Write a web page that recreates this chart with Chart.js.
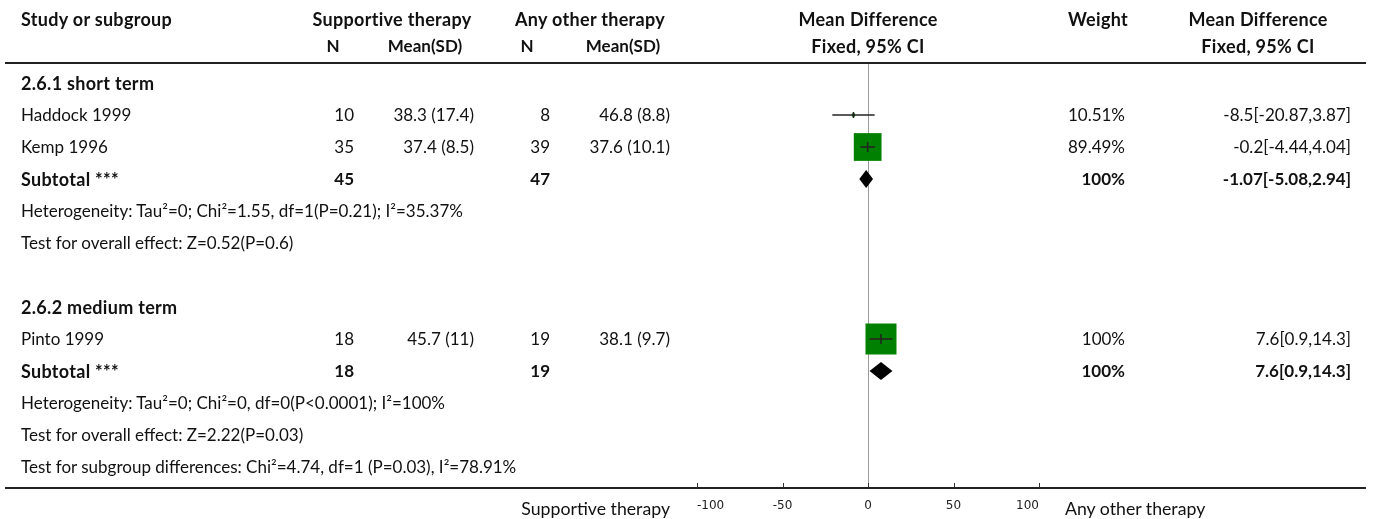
<!DOCTYPE html>
<html><head><meta charset="utf-8">
<script src="https://cdn.jsdelivr.net/npm/chart.js@4.4.1/dist/chart.umd.min.js"></script>
<style>
html,body{margin:0;padding:0;background:#fff;}
#wrap{position:relative;width:1373px;height:519px;overflow:hidden;font-family:Lato,"Noto Sans",sans-serif;font-size:17px;color:#111;}
#c{position:absolute;left:0;top:0;width:1373px;height:519px;}
.t{position:absolute;white-space:nowrap;line-height:20px;height:20px;}
.b{font-weight:bold;}
.bt{font-weight:bold;font-size:18px;letter-spacing:0.3px;}
.hl{position:absolute;background:#222;}
</style></head><body>
<div id="wrap"><canvas id="c" width="1373" height="519"></canvas></div>
<script>
// ---- data ----
const studies   = ['Haddock 1999', 'Kemp 1996', 'Pinto 1999'];
const studyRow  = [1, 2, 8];
const n1        = [10, 35, 18];
const mean1     = [38.3, 37.4, 45.7];
const sd1       = [17.4, 8.5, 11];
const n2        = [8, 39, 19];
const mean2     = [46.8, 37.6, 38.1];
const sd2       = [8.8, 10.1, 9.7];
const md        = [-8.5, -0.2, 7.6];
const ciLow     = [-20.87, -4.44, 0.9];
const ciHigh    = [3.87, 4.04, 14.3];
const weight    = [10.51, 89.49, 100];

const subgroups     = ['2.6.1 short term', '2.6.2 medium term'];
const subgroupRow   = [0, 7];
const subRow        = [3, 9];
const subN1         = [45, 18];
const subN2         = [47, 19];
const subMd         = [-1.07, 7.6];
const subLow        = [-5.08, 0.9];
const subHigh       = [2.94, 14.3];
const subWeight     = [100, 100];
const hetText       = ['Heterogeneity: Tau\u00b2=0; Chi\u00b2=1.55, df=1(P=0.21); I\u00b2=35.37%',
                       'Heterogeneity: Tau\u00b2=0; Chi\u00b2=0, df=0(P<0.0001); I\u00b2=100%'];
const hetRow        = [4, 10];
const effText       = ['Test for overall effect: Z=0.52(P=0.6)', 'Test for overall effect: Z=2.22(P=0.03)'];
const effRow        = [5, 11];
const diffText      = 'Test for subgroup differences: Chi\u00b2=4.74, df=1 (P=0.03), I\u00b2=78.91%';
const diffRow       = 12;
const xTicks        = [-100, -50, 0, 50, 100];
const leftLabel     = 'Supportive therapy';
const rightLabel    = 'Any other therapy';

// ---- layout ----
const ROW0 = 83, ROWH = 32;
const rowY = r => ROW0 + r * ROWH;
const wrap = document.getElementById('wrap');
function txt(s, x, y, align, cls, size) {
  const d = document.createElement('div');
  d.className = 't' + (cls ? ' ' + cls : '');
  d.textContent = s;
  d.style.top = (y - 10) + 'px';
  if (size) d.style.fontSize = size + 'px';
  if (align === 'r') { d.style.right = (1373 - x) + 'px'; }
  else if (align === 'c') { d.style.left = x + 'px'; d.style.transform = 'translateX(-50%)'; }
  else d.style.left = x + 'px';
  wrap.appendChild(d);
}
function hline(x1, x2, y, h) {
  const d = document.createElement('div');
  d.className = 'hl';
  d.style.left = x1 + 'px'; d.style.width = (x2 - x1) + 'px';
  d.style.top = y + 'px'; d.style.height = h + 'px';
  wrap.appendChild(d);
}
const C = {n1: 354, m1: 474, n2: 550, m2: 670, w: 1125, ci: 1351};
// header
txt('Study or subgroup', 21, 19, 'l', 'bt');
txt('Supportive therapy', 392, 19, 'c', 'bt');
txt('Any other therapy', 590, 19, 'c', 'bt');
txt('Mean Difference', 868, 19, 'c', 'bt');
txt('Weight', 1098, 19, 'c', 'bt');
txt('Mean Difference', 1258, 19, 'c', 'bt');
txt('N', 333, 46, 'c', 'b');
txt('Mean(SD)', 425, 46, 'c', 'b');
txt('N', 527, 46, 'c', 'b');
txt('Mean(SD)', 623, 46, 'c', 'b');
txt('Fixed, 95% CI', 868, 46, 'c', 'bt');
txt('Fixed, 95% CI', 1258, 46, 'c', 'bt');
hline(5, 1366, 62, 2);
hline(5, 1366, 487, 2);

subgroups.forEach((s, i) => txt(s, 21, rowY(subgroupRow[i]), 'l', 'bt'));
studies.forEach((s, i) => {
  const y = rowY(studyRow[i]);
  txt(s, 21, y, 'l');
  txt(String(n1[i]), C.n1, y, 'r');
  txt(mean1[i] + ' (' + sd1[i] + ')', C.m1, y, 'r');
  txt(String(n2[i]), C.n2, y, 'r');
  txt(mean2[i] + ' (' + sd2[i] + ')', C.m2, y, 'r');
  txt(weight[i] + '%', C.w, y, 'r');
  txt(md[i] + '[' + ciLow[i] + ',' + ciHigh[i] + ']', C.ci, y, 'r');
});
subRow.forEach((r, i) => {
  const y = rowY(r);
  txt('Subtotal ***', 21, y, 'l', 'bt');
  txt(String(subN1[i]), C.n1, y, 'r', 'b');
  txt(String(subN2[i]), C.n2, y, 'r', 'b');
  txt(subWeight[i] + '%', C.w, y, 'r', 'b');
  txt(subMd[i] + '[' + subLow[i] + ',' + subHigh[i] + ']', C.ci, y, 'r', 'b');
});
hetText.forEach((s, i) => txt(s, 21, rowY(hetRow[i]), 'l'));
effText.forEach((s, i) => txt(s, 21, rowY(effRow[i]), 'l'));
txt(diffText, 21, rowY(diffRow), 'l');
txt(leftLabel, 670, 509, 'r', '', 17.7);
txt(rightLabel, 1065, 509, 'l', '', 17.7);

// ---- chart ----
const Y_MIN = (64 - ROW0) / ROWH, Y_MAX = (488 - ROW0) / ROWH;
const ciSets = studies.map((s, i) => ({
  label: s + ' CI', showLine: true, borderColor: '#222', borderWidth: 1.5,
  pointRadius: 0, order: 1,
  data: [{x: ciLow[i], y: studyRow[i]}, {x: ciHigh[i], y: studyRow[i]}]
}));
const tickSet = {
  label: 'point', order: 1, pointStyle: 'line', rotation: 90,
  pointRadius: weight.map(w => w > 50 ? 5 : 3), borderColor: '#222', borderWidth: 1.5,
  data: studies.map((s, i) => ({x: md[i], y: studyRow[i]}))
};
const squareSet = {
  label: 'weight', order: 3, pointStyle: 'rect',
  pointRadius: weight.map(w => w / 100 * 31 / Math.SQRT2),
  backgroundColor: '#008000', borderWidth: 0,
  data: studies.map((s, i) => ({x: md[i], y: studyRow[i]}))
};
const forestPlugin = {
  id: 'forest',
  afterDatasetsDraw(chart) {
    const {ctx, scales: {x, y}, chartArea} = chart;
    ctx.save();
    ctx.fillStyle = '#000';
    subMd.forEach((m, i) => {
      const yy = y.getPixelForValue(subRow[i]);
      const h = 9;
      ctx.beginPath();
      ctx.moveTo(x.getPixelForValue(subLow[i]), yy);
      ctx.lineTo(x.getPixelForValue(m), yy - h);
      ctx.lineTo(x.getPixelForValue(subHigh[i]), yy);
      ctx.lineTo(x.getPixelForValue(m), yy + h);
      ctx.closePath();
      ctx.fill();
    });
    ctx.strokeStyle = '#333';
    ctx.lineWidth = 1;
    x.ticks.forEach(t => {
      const px = Math.round(x.getPixelForValue(t.value)) + 0.5;
      ctx.beginPath();
      ctx.moveTo(px, chartArea.bottom - 5);
      ctx.lineTo(px, chartArea.bottom);
      ctx.stroke();
    });
    ctx.restore();
  }
};
new Chart(document.getElementById('c'), {
  type: 'scatter',
  data: {datasets: [...ciSets, tickSet, squareSet]},
  options: {
    responsive: false, animation: false, devicePixelRatio: 1,
    layout: {padding: {left: 697, right: 334, top: 64, bottom: 0}},
    plugins: {legend: {display: false}, tooltip: {enabled: false}},
    scales: {
      x: {
        type: 'linear', min: -100, max: 100,
        afterBuildTicks: s => { s.ticks = xTicks.map(v => ({value: v})); },
        afterFit: s => { s.height = 31; },
        border: {display: false},
        grid: {drawTicks: false, drawOnChartArea: true, lineWidth: 1,
               color: c => (c.tick && c.tick.value === 0) ? '#9a9a9a' : 'rgba(0,0,0,0)'},
        ticks: {padding: 11, align: 'inner', color: '#222', font: {family: 'DejaVu Sans', size: 12}, maxRotation: 0}
      },
      y: {type: 'linear', reverse: true, min: Y_MIN, max: Y_MAX, display: false}
    }
  },
  plugins: [forestPlugin]
});
</script>
</body></html>
